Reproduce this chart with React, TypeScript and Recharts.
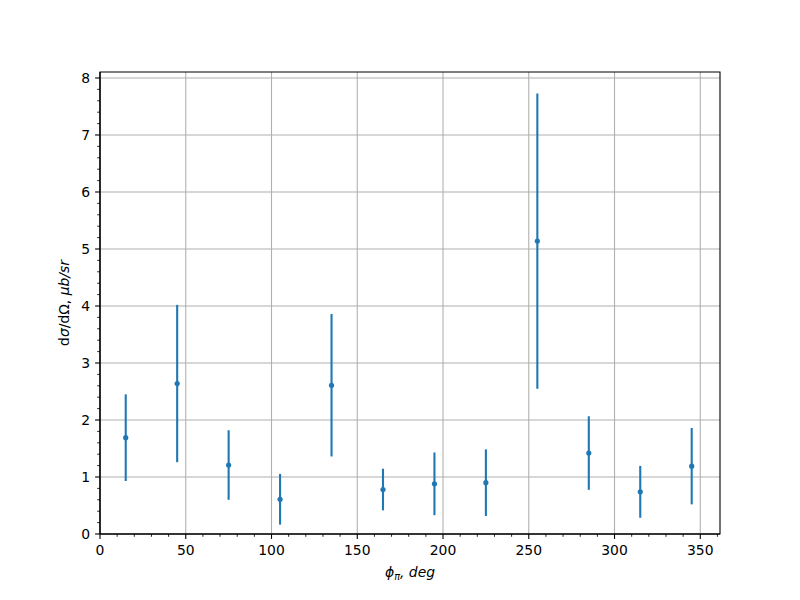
import {
  ComposedChart,
  Scatter,
  ErrorBar,
  XAxis,
  YAxis,
  CartesianGrid,
  ReferenceArea,
} from "recharts";

// measured cross sections per phi bin
const PHI = [15, 45, 75, 105, 135, 165, 195, 225, 255, 285, 315, 345];
const XSEC = [1.69, 2.64, 1.21, 0.61, 2.61, 0.78, 0.88, 0.9, 5.14, 1.42, 0.74, 1.19];
const XSEC_ERR = [0.76, 1.38, 0.61, 0.445, 1.25, 0.365, 0.55, 0.585, 2.59, 0.645, 0.455, 0.67];

const X_MAJOR = [0, 50, 100, 150, 200, 250, 300, 350];
const Y_MAJOR = [0, 1, 2, 3, 4, 5, 6, 7, 8];
const X_DOMAIN: [number, number] = [0, 361.5];
const Y_DOMAIN: [number, number] = [0, 8.105];

const X_MINOR = Array.from({ length: 37 }, (_, i) => i * 10);
const Y_MINOR = Array.from({ length: 41 }, (_, i) => Math.round(i * 2) / 10);

const BLUE = "#1f77b4";
const FONT = "DejaVu Sans";
const FS = 13.9;

const data = PHI.map((phi, i) => ({ phi, xsec: XSEC[i], err: XSEC_ERR[i] }));

function XTick(props: any) {
  const { x, y, payload } = props;
  const major = payload.value % 50 === 0;
  const len = major ? 4.9 : 2.8;
  return (
    <g>
      <line x1={x} x2={x} y1={y} y2={y + len} stroke="#000" strokeWidth={major ? 1.1 : 0.85} />
      {major && (
        <text x={x} y={y + 21} textAnchor="middle" fontFamily={FONT} fontSize={FS} fill="#000">
          {payload.value}
        </text>
      )}
    </g>
  );
}

function YTick(props: any) {
  const { x, y, payload } = props;
  const v = payload.value;
  const major = Math.abs(v - Math.round(v)) < 1e-6;
  const len = major ? 4.9 : 2.8;
  return (
    <g>
      <line x1={x} x2={x - len} y1={y} y2={y} stroke="#000" strokeWidth={major ? 1.1 : 0.85} />
      {major && (
        <text x={x - 10} y={y + 5} textAnchor="end" fontFamily={FONT} fontSize={FS} fill="#000">
          {Math.round(v)}
        </text>
      )}
    </g>
  );
}

function XLabel(props: any) {
  const vb = props.viewBox || {};
  const cx = vb.x + vb.width / 2;
  return (
    <text x={cx} y={577} textAnchor="middle" fontFamily={FONT} fontSize={FS} fill="#000" fontStyle="italic">
      <tspan>ϕ</tspan>
      <tspan fontSize={FS * 0.7} dy={3}>π</tspan>
      <tspan dy={-3}>, deg</tspan>
    </text>
  );
}

function YLabel() {
  return (
    <text
      transform="translate(69, 303) rotate(-90)"
      x={0}
      y={0}
      textAnchor="middle"
      fontFamily={FONT}
      fontSize={FS}
      fill="#000"
    >
      <tspan>d</tspan>
      <tspan fontStyle="italic">σ</tspan>
      <tspan>/dΩ, </tspan>
      <tspan fontStyle="italic">μb/sr</tspan>
    </text>
  );
}

function Dot(props: any) {
  const { cx, cy } = props;
  return <circle cx={cx} cy={cy} r={2.6} fill={BLUE} />;
}

export default function App() {
  return (
    <div style={{ position: "absolute", left: 0, top: 0, width: 800, height: 600, background: "#fff" }}>
      <ComposedChart width={800} height={600} data={data} margin={{ top: 72, right: 80, bottom: 0, left: 0 }}>
        <CartesianGrid
          stroke="#b0b0b0"
          strokeWidth={1.1}
          verticalValues={X_MAJOR}
          horizontalValues={Y_MAJOR}
        />
        <XAxis
          dataKey="phi"
          type="number"
          domain={X_DOMAIN}
          allowDataOverflow
          ticks={X_MINOR}
          interval={0}
          height={66}
          tickSize={0}
          tickMargin={0}
          tickLine={false}
          axisLine={{ stroke: "#000", strokeWidth: 1.1 }}
          tick={<XTick />}
          label={<XLabel />}
        />
        <YAxis
          dataKey="xsec"
          type="number"
          domain={Y_DOMAIN}
          allowDataOverflow
          ticks={Y_MINOR}
          interval={0}
          width={100}
          tickSize={0}
          tickMargin={0}
          tickLine={false}
          axisLine={{ stroke: "#000", strokeWidth: 1.1 }}
          tick={<YTick />}
          label={<YLabel />}
        />
        <ReferenceArea
          x1={X_DOMAIN[0]}
          x2={X_DOMAIN[1]}
          y1={Y_DOMAIN[0]}
          y2={Y_DOMAIN[1]}
          fill="none"
          fillOpacity={0}
          stroke="#000"
          strokeWidth={1.1}
        />
        <Scatter dataKey="xsec" fill={BLUE} shape={<Dot />} isAnimationActive={false}>
          <ErrorBar dataKey="err" direction="y" width={0} stroke={BLUE} strokeWidth={2.1} isAnimationActive={false} />
        </Scatter>
      </ComposedChart>
    </div>
  );
}
